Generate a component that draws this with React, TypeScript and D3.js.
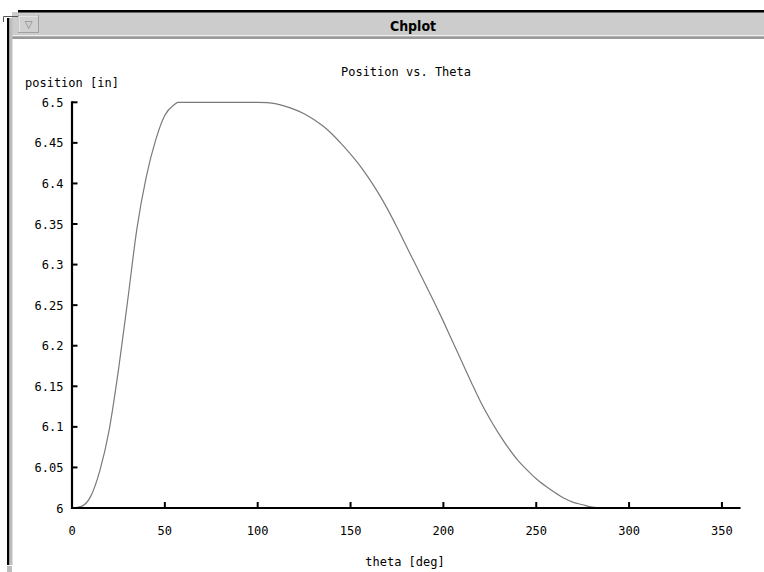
import React, { useEffect, useRef } from "react";
import * as d3 from "d3";

const theta: number[] = [
  0, 5, 10, 15, 20, 25, 30, 35, 40, 45, 50, 55, 57, 60, 70, 80, 90, 100,
  105, 110, 115, 120, 125, 130, 135, 140, 145, 150, 155, 160, 165, 170, 175,
  180, 185, 190, 195, 200, 205, 210, 215, 220, 225, 230, 235, 240, 245, 250,
  255, 260, 265, 270, 275, 280, 285, 300, 320, 340, 360,
];
const position: number[] = [
  6.0, 6.002, 6.014, 6.046, 6.096, 6.17, 6.256, 6.345, 6.408, 6.453, 6.484,
  6.497, 6.5, 6.5, 6.5, 6.5, 6.5, 6.5,
  6.4995, 6.498, 6.495, 6.491, 6.486, 6.479, 6.471, 6.461, 6.449, 6.436,
  6.422, 6.406, 6.388, 6.368, 6.346, 6.323, 6.3, 6.277, 6.254, 6.23, 6.205,
  6.18, 6.155, 6.131, 6.11, 6.091, 6.074, 6.059, 6.047, 6.036, 6.027, 6.019,
  6.012, 6.007, 6.004, 6.001, 6.0, 6.0, 6.0, 6.0, 6.0,
];
const xTicks: number[] = [0, 50, 100, 150, 200, 250, 300, 350];
const yTicks: number[] = [6, 6.05, 6.1, 6.15, 6.2, 6.25, 6.3, 6.35, 6.4, 6.45, 6.5];
const windowTitle = "Chplot";
const chartTitle = "Position vs. Theta";
const xLabel = "theta [deg]";
const yLabel = "position [in]";

const W = 764;
const H = 572;
const MONO = "'DejaVu Sans Mono', 'Liberation Mono', monospace";

export default function App() {
  const ref = useRef<SVGSVGElement | null>(null);

  useEffect(() => {
    const svg = d3.select(ref.current);
    svg.selectAll("*").remove();

    // window frame
    svg.append("rect").attr("x", 0).attr("y", 0).attr("width", W).attr("height", H).attr("fill", "#fff");
    svg.append("rect").attr("x", 12).attr("y", 12).attr("width", W - 12).attr("height", 27).attr("fill", "#cccccc");
    svg.append("rect").attr("x", 18).attr("y", 10).attr("width", W - 18).attr("height", 2.5).attr("fill", "#000");
    svg.append("rect").attr("x", 12).attr("y", 35).attr("width", W - 12).attr("height", 1).attr("fill", "#eeeeee");
    svg.append("rect").attr("x", 12).attr("y", 36.5).attr("width", W - 12).attr("height", 2.5).attr("fill", "#9a9a9a");
    svg.append("rect").attr("x", 7).attr("y", 18).attr("width", 2.5).attr("height", 547).attr("fill", "#000");
    svg.append("rect").attr("x", 9.5).attr("y", 18).attr("width", 3).attr("height", 547).attr("fill", "#bdbdbd");
    svg.append("rect").attr("x", 7).attr("y", 566).attr("width", 5).attr("height", 6).attr("fill", "#bdbdbd");
    // corner
    svg.append("path").attr("d", "M3.5,22 V16.5 H18").attr("fill", "none").attr("stroke", "#555").attr("stroke-width", 1);
    // title bar button
    svg.append("rect").attr("x", 18.5).attr("y", 15.5).attr("width", 20).attr("height", 17).attr("fill", "#d0d0d0").attr("stroke", "#a0a0a0");
    svg.append("line").attr("x1", 19).attr("y1", 16).attr("x2", 38).attr("y2", 16).attr("stroke", "#f4f4f4");
    svg.append("line").attr("x1", 19).attr("y1", 16).attr("x2", 19).attr("y2", 32).attr("stroke", "#f4f4f4");
    svg.append("text").attr("x", 28.5).attr("y", 28).attr("text-anchor", "middle")
      .attr("font-family", "'DejaVu Sans', sans-serif").attr("font-size", 10).attr("fill", "#777").text("\u25BD");
    svg.append("text").attr("x", 413).attr("y", 31).attr("text-anchor", "middle")
      .attr("font-family", "'DejaVu Sans Condensed', 'DejaVu Sans', sans-serif").attr("font-weight", "bold")
      .attr("font-size", 14).attr("fill", "#000").text(windowTitle);

    const x = d3.scaleLinear().domain([0, 360]).range([72, 740.5]);
    const y = d3.scaleLinear().domain([6, 6.5]).range([508, 102.3]);

    // curve
    const line = d3.line<number>().x((_, i) => x(theta[i])).y((d) => y(d)).curve(d3.curveMonotoneX);
    svg.append("path").attr("d", line(position) || "").attr("fill", "none")
      .attr("stroke", "#7a7a7a").attr("stroke-width", 1.2);

    // axes
    svg.append("line").attr("x1", x(0) - 1).attr("x2", x(360)).attr("y1", y(6)).attr("y2", y(6))
      .attr("stroke", "#000").attr("stroke-width", 2.2);
    svg.append("line").attr("x1", x(0)).attr("x2", x(0)).attr("y1", y(6.5) - 1).attr("y2", y(6) + 1)
      .attr("stroke", "#000").attr("stroke-width", 2.2);

    xTicks.forEach((t) => {
      if (t > 0) {
        svg.append("line").attr("x1", x(t)).attr("x2", x(t)).attr("y1", y(6)).attr("y2", y(6) - 6)
          .attr("stroke", "#000").attr("stroke-width", 2);
      }
      svg.append("text").attr("x", x(t)).attr("y", 535).attr("text-anchor", "middle")
        .attr("font-family", MONO).attr("font-size", 12).attr("fill", "#000").text(String(t));
    });
    yTicks.forEach((t) => {
      if (t > 6) {
        svg.append("line").attr("x1", x(0)).attr("x2", x(0) + 5.5).attr("y1", y(t)).attr("y2", y(t))
          .attr("stroke", "#000").attr("stroke-width", 2);
      }
      svg.append("text").attr("x", 63.5).attr("y", y(t) + 4.5).attr("text-anchor", "end")
        .attr("font-family", MONO).attr("font-size", 12).attr("fill", "#000").text(String(t));
    });

    svg.append("text").attr("x", 406).attr("y", 76).attr("text-anchor", "middle")
      .attr("font-family", MONO).attr("font-size", 12).attr("fill", "#000").text(chartTitle);
    svg.append("text").attr("x", 25).attr("y", 87)
      .attr("font-family", MONO).attr("font-size", 12).attr("fill", "#000").text(yLabel);
    svg.append("text").attr("x", 405).attr("y", 566).attr("text-anchor", "middle")
      .attr("font-family", MONO).attr("font-size", 12).attr("fill", "#000").text(xLabel);
  }, []);

  return (
    <svg ref={ref} width={W} height={H}
      style={{ position: "absolute", left: 0, top: 0, display: "block" }} />
  );
}
